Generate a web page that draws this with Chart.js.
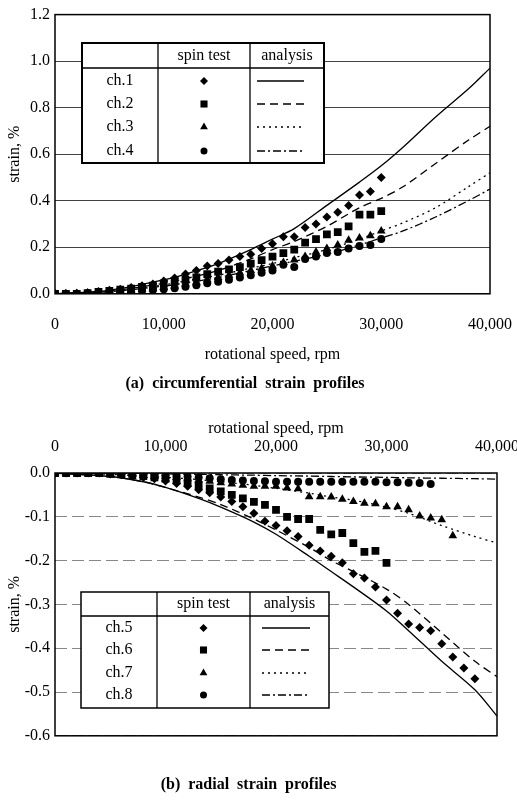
<!DOCTYPE html>
<html>
<head>
<meta charset="utf-8">
<script src="https://cdn.jsdelivr.net/npm/chart.js@4.4.1/dist/chart.umd.min.js"></script>
<style>
  html, body { margin: 0; padding: 0; background: #fff; width: 517px; height: 800px; overflow: hidden; position: relative; }
  .box { position: absolute; left: 0; width: 560px; height: 400px; }
  #boxA { top: 0; }
  #boxB { top: 400px; }
</style>
</head>
<body>
<div class="box" id="boxA"><canvas id="chartA"></canvas></div>
<div class="box" id="boxB"><canvas id="chartB"></canvas></div>
<script>
// (a) circumferential strain - spin test readings
const spinRpmA = [0, 1000, 2000, 3000, 4000, 5000, 6000, 7000, 8000, 9000, 10000, 11000, 12000, 13000, 14000, 15000,
  16000, 17000, 18000, 19000, 20000, 21000, 22000, 23000, 24000, 25000, 26000, 27000, 28000, 29000, 30000];
const ch1Spin = [0, 0, 0.002, 0.005, 0.01, 0.015, 0.02, 0.027, 0.035, 0.042, 0.055, 0.068, 0.085, 0.1, 0.12, 0.13,
  0.145, 0.16, 0.17, 0.195, 0.215, 0.245, 0.245, 0.285, 0.3, 0.33, 0.35, 0.38, 0.425, 0.44, 0.5];
const ch2Spin = [0, 0, 0, 0.003, 0.008, 0.012, 0.018, 0.022, 0.03, 0.035, 0.045, 0.052, 0.06, 0.07, 0.085, 0.095,
  0.105, 0.115, 0.13, 0.145, 0.16, 0.175, 0.19, 0.22, 0.235, 0.255, 0.265, 0.29, 0.34, 0.34, 0.355];
const ch3Spin = [0, 0, 0, 0.002, 0.005, 0.008, 0.011, 0.014, 0.018, 0.022, 0.028, 0.034, 0.042, 0.05, 0.06, 0.07,
  0.08, 0.09, 0.1, 0.11, 0.12, 0.135, 0.145, 0.16, 0.18, 0.195, 0.21, 0.23, 0.24, 0.25, 0.27];
const ch4Spin = [0, 0, 0, 0.002, 0.004, 0.006, 0.008, 0.01, 0.013, 0.016, 0.02, 0.024, 0.03, 0.037, 0.045, 0.052,
  0.06, 0.07, 0.08, 0.09, 0.1, 0.125, 0.115, 0.15, 0.16, 0.175, 0.18, 0.195, 0.205, 0.21, 0.235];

// (a) analysis curves
const fitRpmA = [0, 5000, 10000, 12000, 15000, 18000, 20000, 22000, 25000, 28000, 30000, 32000, 35000, 38000, 40000];
const ch1Fit = [0, 0.015, 0.06, 0.085, 0.13, 0.19, 0.235, 0.28, 0.38, 0.48, 0.55, 0.63, 0.76, 0.88, 0.97];
const ch2Fit = [0, 0.012, 0.045, 0.065, 0.1, 0.15, 0.19, 0.225, 0.29, 0.37, 0.41, 0.46, 0.56, 0.66, 0.72];
const ch3Fit = [0, 0.01, 0.038, 0.055, 0.08, 0.11, 0.13, 0.155, 0.19, 0.235, 0.27, 0.305, 0.37, 0.46, 0.52];
const ch4Fit = [0, 0.009, 0.033, 0.047, 0.07, 0.1, 0.12, 0.14, 0.17, 0.21, 0.24, 0.27, 0.33, 0.4, 0.45];

// (b) radial strain - spin test readings
const spinRpmB = [0, 1000, 2000, 3000, 4000, 5000, 6000, 7000, 8000, 9000, 10000, 11000, 12000, 13000, 14000, 15000,
  16000, 17000, 18000, 19000, 20000, 21000, 22000, 23000, 24000, 25000, 26000, 27000, 28000, 29000, 30000,
  31000, 32000, 33000, 34000, 35000, 36000, 37000, 38000];
const ch5Spin = [0, 0, 0, 0, 0, -0.002, -0.004, -0.006, -0.01, -0.013, -0.018, -0.024, -0.03, -0.038, -0.045, -0.055,
  -0.065, -0.077, -0.092, -0.11, -0.12, -0.132, -0.145, -0.165, -0.178, -0.19, -0.205, -0.23, -0.24, -0.26, -0.29,
  -0.32, -0.345, -0.353, -0.36, -0.39, -0.42, -0.445, -0.47];
const ch6Spin = [0, 0, 0, 0, 0, -0.002, -0.003, -0.005, -0.007, -0.01, -0.013, -0.017, -0.022, -0.028, -0.035, -0.042,
  -0.05, -0.058, -0.066, -0.073, -0.084, -0.1, -0.105, -0.105, -0.13, -0.14, -0.137, -0.16, -0.18, -0.178, -0.205];
const ch7Spin = [0, 0, 0, 0, 0, -0.001, -0.002, -0.003, -0.005, -0.006, -0.008, -0.01, -0.013, -0.016, -0.019, -0.022,
  -0.025, -0.028, -0.03, -0.03, -0.03, -0.034, -0.036, -0.054, -0.054, -0.055, -0.06, -0.065, -0.069, -0.07, -0.077,
  -0.077, -0.084, -0.098, -0.103, -0.107, -0.143];
const ch8Spin = [0, 0, 0, 0, 0, 0, -0.001, -0.002, -0.003, -0.004, -0.005, -0.006, -0.008, -0.01, -0.012, -0.014,
  -0.016, -0.017, -0.018, -0.019, -0.02, -0.02, -0.02, -0.02, -0.02, -0.02, -0.02, -0.02, -0.02, -0.02, -0.021,
  -0.021, -0.022, -0.023, -0.025];

// (b) analysis curves
const fitRpmB = [0, 5000, 8000, 10000, 13000, 15000, 18000, 20000, 23000, 25000, 27000, 30000, 32000, 35000, 38000, 40000];
const ch5Fit = [0, -0.008, -0.02, -0.033, -0.058, -0.078, -0.112, -0.14, -0.19, -0.225, -0.26, -0.315, -0.36, -0.43, -0.495, -0.555];
const ch6Fit = [0, -0.008, -0.02, -0.033, -0.055, -0.072, -0.105, -0.13, -0.17, -0.2, -0.225, -0.265, -0.3, -0.365, -0.43, -0.465];
const ch7Fit = [0, -0.003, -0.007, -0.01, -0.015, -0.02, -0.028, -0.035, -0.046, -0.055, -0.062, -0.078, -0.092, -0.12, -0.145, -0.16];
const ch8Fit = [0, 0, -0.001, -0.002, -0.003, -0.004, -0.005, -0.006, -0.007, -0.008, -0.009, -0.01, -0.011, -0.012, -0.013, -0.014];

const serif = '"Liberation Serif", "Times New Roman", serif';
Chart.defaults.font.family = serif;
Chart.defaults.font.size = 16;
Chart.defaults.color = '#000';

const pairs = (xs, ys) => ys.map((v, i) => ({ x: xs[i], y: v }));

function spinSet(label, xs, ys, style, r) {
  return {
    type: 'scatter', label: label, data: pairs(xs, ys),
    pointStyle: style, pointRadius: r, backgroundColor: '#000', borderColor: '#000', borderWidth: 0
  };
}
function fitSet(label, xs, ys, dash) {
  return {
    type: 'line', label: label, data: pairs(xs, ys),
    borderColor: '#000', borderWidth: 1.3, borderDash: dash, pointRadius: 0, tension: 0.3, fill: false
  };
}

// box round the plot area
const frame = {
  id: 'frame',
  afterDatasetsDraw(chart) {
    const { ctx, chartArea: a } = chart;
    ctx.save();
    ctx.strokeStyle = '#000';
    ctx.lineWidth = 1.5;
    ctx.strokeRect(a.left, a.top, a.right - a.left, a.bottom - a.top);
    ctx.restore();
  }
};

// the boxed "spin test / analysis" key
const legendTable = {
  id: 'legendTable',
  afterDraw(chart, args, o) {
    const ctx = chart.ctx;
    const spins = chart.data.datasets.filter(d => d.type === 'scatter');
    const fits = chart.data.datasets.filter(d => d.type === 'line');
    ctx.save();
    ctx.fillStyle = '#fff';
    ctx.fillRect(o.left, o.top, o.right - o.left, o.bottom - o.top);
    ctx.strokeStyle = '#000';
    ctx.lineWidth = o.border;
    ctx.strokeRect(o.left, o.top, o.right - o.left, o.bottom - o.top);
    ctx.lineWidth = 1.3;
    ctx.beginPath();
    ctx.moveTo(o.left, o.headBottom); ctx.lineTo(o.right, o.headBottom);
    ctx.moveTo(o.col1, o.top); ctx.lineTo(o.col1, o.bottom);
    ctx.moveTo(o.col2, o.top); ctx.lineTo(o.col2, o.bottom);
    ctx.stroke();

    ctx.fillStyle = '#000';
    ctx.font = '16px ' + serif;
    ctx.textAlign = 'center';
    ctx.textBaseline = 'middle';
    const headY = (o.top + o.headBottom) / 2;
    ctx.fillText('spin test', (o.col1 + o.col2) / 2, headY);
    ctx.fillText('analysis', (o.col2 + o.right) / 2, headY);

    spins.forEach((d, i) => {
      const y = o.rows[i];
      ctx.fillStyle = '#000';
      ctx.fillText(d.label, (o.left + o.col1) / 2, y);
      Chart.helpers.drawPoint(ctx, { pointStyle: d.pointStyle, radius: d.pointRadius - 0.5, rotation: 0, borderWidth: 0 },
        (o.col1 + o.col2) / 2, y);
      const f = fits[i];
      ctx.save();
      ctx.strokeStyle = '#000';
      ctx.lineWidth = 1.3;
      ctx.setLineDash(f.borderDash || []);
      ctx.beginPath();
      ctx.moveTo(o.sampleL, y); ctx.lineTo(o.sampleR, y);
      ctx.stroke();
      ctx.restore();
    });
    ctx.restore();
  }
};

const DASH = [], DASHED = [8, 5], DOTTED = [2, 4], DASHDOT = [8, 3, 2, 3];
const fmtRpm = v => v.toLocaleString('en-US');

new Chart(document.getElementById('chartA'), {
  type: 'scatter',
  data: {
    datasets: [
      fitSet('ch.1', fitRpmA, ch1Fit, DASH),
      fitSet('ch.2', fitRpmA, ch2Fit, DASHED),
      fitSet('ch.3', fitRpmA, ch3Fit, DOTTED),
      fitSet('ch.4', fitRpmA, ch4Fit, DASHDOT),
      spinSet('ch.1', spinRpmA, ch1Spin, 'rectRot', 4.5),
      spinSet('ch.2', spinRpmA, ch2Spin, 'rect', 5.5),
      spinSet('ch.3', spinRpmA, ch3Spin, 'triangle', 5),
      spinSet('ch.4', spinRpmA, ch4Spin, 'circle', 4)
    ]
  },
  options: {
    responsive: true,
    maintainAspectRatio: false,
    animation: false,
    layout: { padding: { left: 0, right: 70, top: 12, bottom: 0 } },
    scales: {
      x: {
        type: 'linear', min: 0, max: 40000,
        ticks: { stepSize: 10000, padding: 21, callback: fmtRpm, maxRotation: 0 },
        grid: { display: false, drawTicks: false },
        border: { display: false },
        title: { display: true, text: 'rotational speed, rpm', padding: { top: 11, bottom: 0 } },
        afterFit: s => { s.height = 71; }
      },
      y: {
        min: 0, max: 1.2,
        ticks: { stepSize: 0.2, padding: 5, callback: v => v.toFixed(1) },
        grid: { color: '#444', lineWidth: 1, drawTicks: false },
        border: { display: false },
        title: { display: true, text: 'strain, %', padding: { top: 5, bottom: 0 } },
        afterFit: s => { s.width = 55; }
      }
    },
    plugins: {
      legend: { display: false },
      tooltip: { enabled: false },
      title: {
        display: true, position: 'bottom',
        text: '(a)  circumferential  strain  profiles',
        font: { size: 16, weight: 'bold' },
        padding: { top: 9, bottom: 7 }
      },
      legendTable: {
        left: 82, right: 324, top: 43, bottom: 163, headBottom: 68,
        col1: 158, col2: 250, rows: [81, 104, 127, 151], sampleL: 257, sampleR: 304, border: 2
      }
    }
  },
  plugins: [frame, legendTable]
});

new Chart(document.getElementById('chartB'), {
  type: 'scatter',
  data: {
    datasets: [
      fitSet('ch.5', fitRpmB, ch5Fit, DASH),
      fitSet('ch.6', fitRpmB, ch6Fit, DASHED),
      fitSet('ch.7', fitRpmB, ch7Fit, DOTTED),
      fitSet('ch.8', fitRpmB, ch8Fit, DASHDOT),
      spinSet('ch.5', spinRpmB, ch5Spin, 'rectRot', 4.5),
      spinSet('ch.6', spinRpmB, ch6Spin, 'rect', 5.5),
      spinSet('ch.7', spinRpmB, ch7Spin, 'triangle', 5),
      spinSet('ch.8', spinRpmB, ch8Spin, 'circle', 4)
    ]
  },
  options: {
    responsive: true,
    maintainAspectRatio: false,
    animation: false,
    layout: { padding: { left: 0, right: 63, top: 21, bottom: 0 } },
    scales: {
      x: {
        type: 'linear', position: 'top', min: 0, max: 40000,
        ticks: { stepSize: 10000, padding: 17, callback: fmtRpm, maxRotation: 0 },
        grid: { display: false, drawTicks: false },
        border: { display: false },
        title: { display: true, text: 'rotational speed, rpm', font: { lineHeight: 1 }, padding: { top: 0, bottom: 0 } },
        afterFit: s => { s.height = 52; }
      },
      y: {
        min: -0.6, max: 0,
        ticks: { stepSize: 0.1, padding: 5, callback: v => (Math.abs(v) < 1e-9 ? 0 : v).toFixed(1) },
        grid: { color: '#888', lineWidth: 1, drawTicks: false },
        border: { display: false, dash: [12, 5] },
        title: { display: true, text: 'strain, %', padding: { top: 5, bottom: 0 } },
        afterFit: s => { s.width = 55; }
      }
    },
    plugins: {
      legend: { display: false },
      tooltip: { enabled: false },
      title: {
        display: true, position: 'bottom',
        text: '(b)  radial  strain  profiles',
        font: { size: 16, weight: 'bold' },
        padding: { top: 39, bottom: 6 }
      },
      legendTable: {
        left: 81, right: 329, top: 192, bottom: 308, headBottom: 216,
        col1: 157, col2: 250, rows: [228, 250, 273, 295], sampleL: 262, sampleR: 310, border: 1.5
      }
    }
  },
  plugins: [frame, legendTable]
});
</script>
</body>
</html>
